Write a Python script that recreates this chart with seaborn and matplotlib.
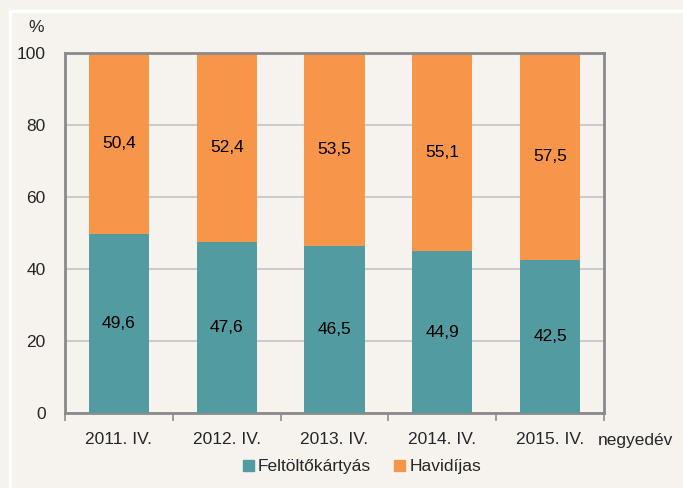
import matplotlib
matplotlib.use("Agg")
import matplotlib.pyplot as plt
from matplotlib.patches import Rectangle
import seaborn as sns
import pandas as pd

categories = ["2011. IV.", "2012. IV.", "2013. IV.", "2014. IV.", "2015. IV."]
feltoltos = [49.6, 47.6, 46.5, 44.9, 42.5]
havidijas = [50.4, 52.4, 53.5, 55.1, 57.5]
series_names = ["Feltöltőkártyás", "Havidíjas"]
yticks = [0, 20, 40, 60, 80, 100]

teal = "#529ba1"
orange = "#f7964a"
bg = "#f6f3ef"

sns.set_theme(style="white")
plt.rcParams["font.family"] = ["Liberation Sans", "DejaVu Sans"]
fs = 12.5

df = pd.DataFrame({"cat": categories, "felt": feltoltos, "havi": havidijas})
df["total"] = df["felt"] + df["havi"]

fig = plt.figure(figsize=(6.83, 4.88), dpi=100, facecolor=bg)
fig.patches.append(Rectangle((10 / 683, -0.1), 1.2, (488 - 11) / 488 + 0.1,
                             transform=fig.transFigure, fill=False,
                             edgecolor="white", linewidth=2.2, zorder=0))
ax = fig.add_axes([65 / 683, 75 / 488, 539 / 683, 360 / 488])
ax.set_facecolor(bg)

sns.barplot(data=df, x="cat", y="total", color=orange, width=0.56,
            saturation=1, ax=ax, zorder=2, linewidth=0)
sns.barplot(data=df, x="cat", y="felt", color=teal, width=0.56,
            saturation=1, ax=ax, zorder=3, linewidth=0)

for i, (f, h) in enumerate(zip(feltoltos, havidijas)):
    ax.text(i, f / 2, f"{f:.1f}".replace(".", ","), ha="center", va="center",
            fontsize=fs, color="black", zorder=4)
    ax.text(i, f + h / 2, f"{h:.1f}".replace(".", ","), ha="center", va="center",
            fontsize=fs, color="black", zorder=4)

ax.set_ylim(0, 100)
ax.set_xlim(-0.5, len(categories) - 0.5)
ax.set_yticks(yticks)
ax.set_yticklabels([str(v) for v in yticks], fontsize=fs)
ax.yaxis.grid(True, color="#c4c4c4", linewidth=1.2, zorder=0)
ax.set_axisbelow(True)
ax.set_xlabel("")
ax.set_ylabel("")
ax.tick_params(axis="y", length=0, pad=14, labelsize=fs)
ax.set_xticks(range(len(categories)))
ax.set_xticklabels(categories, fontsize=fs)
ax.tick_params(axis="x", which="major", length=0, pad=14)
ax.set_xticks([i - 0.5 for i in range(len(categories) + 1)], minor=True)
ax.tick_params(axis="x", which="minor", bottom=True, length=6, width=1.2,
               color="#8c8c8c", direction="out")
for s in ax.spines.values():
    s.set_visible(True)
    s.set_color("#8a8a8a")
    s.set_linewidth(2)

fig.text(36 / 683, 1 - 28 / 488, "%", fontsize=fs, ha="center", va="center")
fig.text(598 / 683, 1 - 441 / 488, "negyedév", fontsize=fs, ha="left", va="center")

handles = [Rectangle((0, 0), 1, 1, color=teal), Rectangle((0, 0), 1, 1, color=orange)]
fig.legend(handles, series_names, loc="center", bbox_to_anchor=(362 / 683, 1 - 467 / 488),
           ncol=2, frameon=False, fontsize=fs, handlelength=0.6, handleheight=0.6,
           handletextpad=0.25, columnspacing=1.35)

fig.savefig("out.png", dpi=100, facecolor=bg)
